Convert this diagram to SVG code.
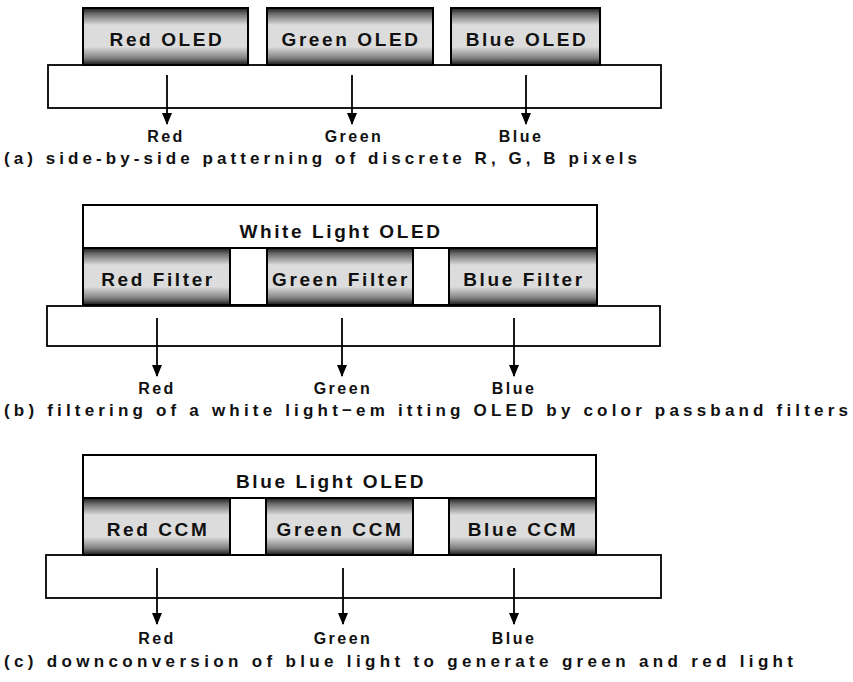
<svg xmlns="http://www.w3.org/2000/svg" width="853" height="682" viewBox="0 0 853 682">
<style>
.box{fill:url(#g);stroke:#000;stroke-width:2}
.wbox{fill:#fff;stroke:#000;stroke-width:2}
.sub{fill:#fff;stroke:#000;stroke-width:1.8}
.bl{font-family:"Liberation Sans",Arial,sans-serif;font-weight:bold;font-size:19px;letter-spacing:2.6px;text-anchor:middle;fill:#111}
.lab{font-family:"Liberation Sans",Arial,sans-serif;font-weight:bold;font-size:16px;letter-spacing:2.5px;text-anchor:middle;fill:#111}
.cap{font-family:"Liberation Sans",Arial,sans-serif;font-weight:bold;font-size:17px;fill:#111}
.arr{stroke:#000;stroke-width:1.8;fill:none;marker-end:url(#ah)}
</style>
<defs>
<linearGradient id="g" x1="0" y1="0" x2="0" y2="1">
<stop offset="0" stop-color="#1a1a1a"/>
<stop offset="0.1" stop-color="#6a6a6a"/>
<stop offset="0.3" stop-color="#dcdcdc"/>
<stop offset="0.68" stop-color="#dcdcdc"/>
<stop offset="0.88" stop-color="#808080"/>
<stop offset="1" stop-color="#1a1a1a"/>
</linearGradient>
<marker id="ah" viewBox="0 0 12 10" refX="11" refY="5" markerWidth="12" markerHeight="10" markerUnits="userSpaceOnUse" orient="auto">
<path d="M0,0 L12,5 L0,10 Z" fill="#000"/>
</marker>
</defs>

<!-- Panel (a) -->
<g id="a-substrate"><rect class="sub" x="48" y="65" width="613" height="43"/></g>
<g id="a-red-oled"><rect class="box" x="83" y="8" width="165" height="57"/><text class="bl" x="167" y="46">Red OLED</text></g>
<g id="a-green-oled"><rect class="box" x="267" y="8" width="166" height="57"/><text class="bl" x="351" y="46">Green OLED</text></g>
<g id="a-blue-oled"><rect class="box" x="451" y="8" width="149" height="57"/><text class="bl" x="527" y="46">Blue OLED</text></g>
<g id="a-labels">
<text class="lab" x="166" y="142">Red</text>
<text class="lab" x="354" y="142">Green</text>
<text class="lab" x="521" y="142">Blue</text>
</g>
<text class="cap" x="4" y="164" textLength="633" lengthAdjust="spacing">(a)  side-by-side patterning of discrete R, G, B pixels</text>

<!-- Panel (b) -->
<g id="b-substrate"><rect class="sub" x="47" y="306" width="613" height="40"/></g>
<g id="b-white-oled"><rect class="wbox" x="83" y="205" width="514" height="43"/><text class="bl" x="341" y="238">White Light OLED</text></g>
<g id="b-red-filter"><rect class="box" x="83" y="248" width="147" height="57"/><text class="bl" x="158" y="286">Red Filter</text></g>
<g id="b-gap1"><rect class="wbox" x="230" y="248" width="37" height="57"/></g>
<g id="b-green-filter"><rect class="box" x="267" y="248" width="146" height="57"/><text class="bl" x="341" y="286">Green Filter</text></g>
<g id="b-gap2"><rect class="wbox" x="413" y="248" width="36" height="57"/></g>
<g id="b-blue-filter"><rect class="box" x="449" y="248" width="148" height="57"/><text class="bl" x="524" y="286">Blue Filter</text></g>
<g id="b-labels">
<text class="lab" x="157" y="394">Red</text>
<text class="lab" x="343" y="394">Green</text>
<text class="lab" x="514" y="394">Blue</text>
</g>
<text class="cap" x="4" y="416" textLength="844" lengthAdjust="spacing">(b)  filtering of a white light−em itting OLED by color passband filters</text>

<!-- Panel (c) -->
<g id="c-substrate"><rect class="sub" x="46" y="555" width="615" height="43"/></g>
<g id="c-blue-oled"><rect class="wbox" x="83" y="455" width="513" height="43"/><text class="bl" x="331" y="488">Blue Light OLED</text></g>
<g id="c-red-ccm"><rect class="box" x="83" y="498" width="147" height="57"/><text class="bl" x="158" y="536">Red CCM</text></g>
<g id="c-gap1"><rect class="wbox" x="230" y="498" width="36" height="57"/></g>
<g id="c-green-ccm"><rect class="box" x="266" y="498" width="147" height="57"/><text class="bl" x="340" y="536">Green CCM</text></g>
<g id="c-gap2"><rect class="wbox" x="413" y="498" width="36" height="57"/></g>
<g id="c-blue-ccm"><rect class="box" x="449" y="498" width="147" height="57"/><text class="bl" x="523" y="536">Blue CCM</text></g>
<g id="c-labels">
<text class="lab" x="157" y="644">Red</text>
<text class="lab" x="343" y="644">Green</text>
<text class="lab" x="514" y="644">Blue</text>
</g>
<text class="cap" x="4" y="667" textLength="789" lengthAdjust="spacing">(c) downconversion of blue light to generate green and red light</text>

<!-- Connectors -->
<g id="connectors">
<line class="arr" x1="167" y1="75" x2="167" y2="124"/>
<line class="arr" x1="352" y1="75" x2="352" y2="124"/>
<line class="arr" x1="526" y1="75" x2="526" y2="124"/>
<line class="arr" x1="157" y1="318" x2="157" y2="376"/>
<line class="arr" x1="342" y1="318" x2="342" y2="376"/>
<line class="arr" x1="514" y1="318" x2="514" y2="376"/>
<line class="arr" x1="157" y1="568" x2="157" y2="624"/>
<line class="arr" x1="343" y1="568" x2="343" y2="624"/>
<line class="arr" x1="514" y1="568" x2="514" y2="624"/>
</g>
</svg>
